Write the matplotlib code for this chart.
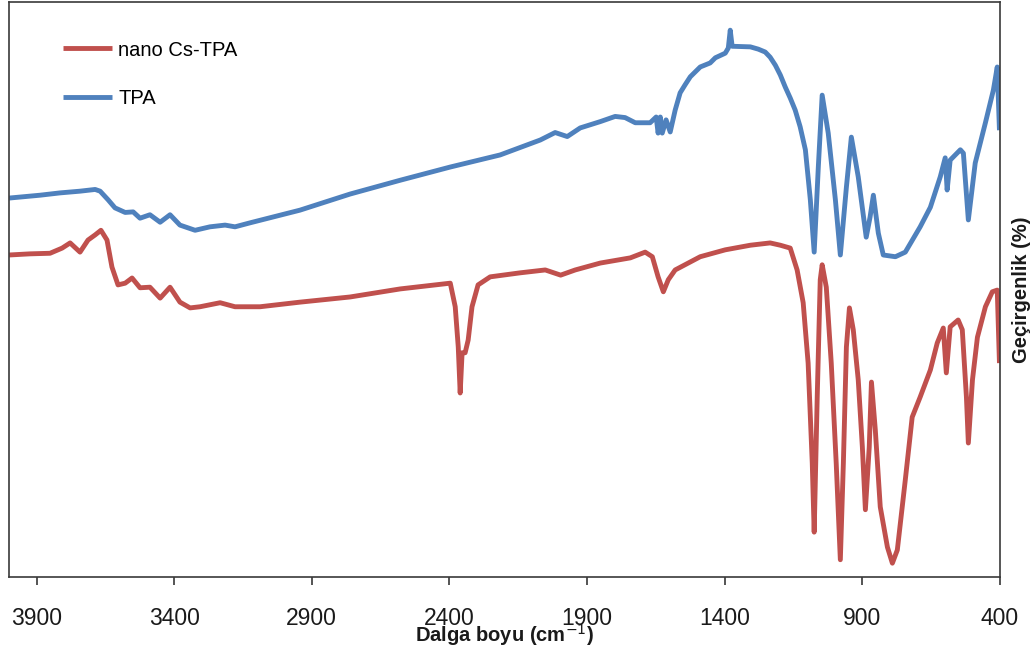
import matplotlib
matplotlib.use("Agg")
import matplotlib.pyplot as plt

plt.rcParams['font.family'] = ['Liberation Sans', 'DejaVu Sans']

# TPA (blue) spectrum: wavenumber (cm-1) and transmittance (arbitrary %)
tpa_wn = [4000, 3887, 3815, 3742, 3687, 3669, 3640, 3615, 3578, 3549, 3524, 3488,
          3451, 3415, 3379, 3324, 3270, 3215, 3179, 3124, 2943, 2761, 2579, 2397,
          2216, 2070, 2016, 1972, 1925, 1852, 1798, 1762, 1725, 1671, 1649, 1642,
          1634, 1627, 1613, 1598, 1580, 1562, 1544, 1525, 1489, 1453, 1434, 1398,
          1387, 1380, 1373, 1307, 1278, 1253, 1235, 1216, 1198, 1180, 1162, 1144,
          1126, 1107, 1089, 1075, 1060, 1046, 1024,
          998, 980, 958, 940, 915, 886, 872, 860, 842, 824, 780, 744, 690, 653,
          617, 599, 592, 581, 544, 533, 515, 490, 453, 424, 410, 402]
tpa_t = [65.9, 66.4, 66.8, 67.1, 67.4, 67.1, 65.6, 64.2, 63.4, 63.5, 62.4, 63.0,
         61.7, 63.0, 61.2, 60.3, 60.9, 61.2, 60.9, 61.6, 63.8, 66.6, 69.0, 71.3,
         73.4, 76.0, 77.3, 76.6, 78.1, 79.2, 80.1, 79.9, 79.0, 79.0, 80.0, 77.2,
         80.0, 77.2, 79.5, 77.4, 81.2, 84.2, 85.6, 87.0, 88.7, 89.4, 90.3, 91.1,
         92.0, 95.1, 92.3, 92.2, 91.8, 91.3, 90.4, 89.0, 87.3, 85.2, 83.3, 81.2,
         78.3, 74.3, 65.6, 56.5, 71.3, 83.8, 77.2,
         65.6, 56.0, 67.8, 76.5, 69.6, 59.1, 62.6, 66.4, 59.8, 56.0, 55.7, 56.5,
         60.9, 64.3, 69.6, 72.9, 67.3, 72.5, 74.3, 73.7, 62.1, 72.0, 79.0, 84.7,
         88.7, 77.7]

# nano Cs-TPA (red) spectrum
cs_wn = [4000, 3924, 3851, 3807, 3778, 3742, 3713, 3687, 3666, 3644, 3626, 3604,
         3578, 3553, 3524, 3488, 3451, 3415, 3379, 3342, 3306, 3233, 3179, 3088,
         2943, 2761, 2579, 2397, 2379, 2368, 2361, 2354, 2343, 2332, 2318, 2296,
         2252, 2143, 2052, 1996, 1943, 1852, 1743, 1689, 1663, 1642, 1623, 1605,
         1580, 1489, 1398, 1307, 1235, 1198, 1162, 1137, 1115, 1097, 1082, 1075,
         1064, 1053, 1046, 1031, 1013, 995, 980, 969, 958, 947, 933, 915, 900,
         889, 875, 867, 853, 835, 809, 791, 773, 744, 719, 690, 653, 628, 606,
         595, 581, 552, 537, 522, 515, 500, 482, 453, 428, 410, 402]
cs_t = [56.0, 56.2, 56.3, 57.2, 58.1, 56.5, 58.6, 59.5, 60.3, 58.6, 53.9, 50.8,
        51.1, 52.0, 50.3, 50.4, 48.5, 50.4, 47.8, 46.8, 47.0, 47.7, 47.0, 47.0,
        47.8, 48.7, 50.1, 51.1, 47.0, 40.0, 32.0, 39.0, 39.0, 41.2, 47.0, 50.8,
        52.2, 52.9, 53.4, 52.5, 53.4, 54.6, 55.5, 56.5, 55.7, 52.2, 49.6, 51.7,
        53.4, 55.7, 56.9, 57.7, 58.1, 57.7, 57.2, 53.4, 47.7, 37.2, 19.8, 7.8,
        31.3, 51.7, 54.3, 50.4, 37.2, 19.8, 3.0, 19.8, 40.0, 46.8, 43.0, 34.3,
        22.6, 11.7, 22.6, 33.9, 25.6, 12.2, 5.2, 2.4, 4.7, 16.9, 27.8, 31.3,
        36.0, 40.7, 43.3, 35.5, 43.5, 44.7, 43.0, 31.3, 23.3, 34.3, 41.7, 47.0,
        49.6, 49.9, 37.2]

tick_values = [3900, 3400, 2900, 2400, 1900, 1400, 900, 400]
tick_labels = ['3900', '3400', '2900', '2400', '1900', '1400', '900', '400']
series_names = ['nano Cs-TPA', 'TPA']

RED = '#C0504D'
BLUE = '#4F81BD'

fig = plt.figure(figsize=(10.36, 6.53), dpi=100)
ax = fig.add_axes([9 / 1036, 1 - 577 / 653, 991 / 1036, 575 / 653])

ax.plot(cs_wn, cs_t, color=RED, lw=3.5, label=series_names[0],
        solid_joinstyle='round', solid_capstyle='butt')
ax.plot(tpa_wn, tpa_t, color=BLUE, lw=3.5, label=series_names[1],
        solid_joinstyle='round', solid_capstyle='butt')

ax.set_xlim(4000, 400)
ax.set_ylim(0, 100)
ax.set_xticks(tick_values)
ax.set_xticklabels(tick_labels)
ax.set_yticks([])
ax.tick_params(axis='x', direction='out', length=5.8, width=1.1,
               pad=16, labelsize=16.5, colors='#262626', labelcolor='#1a1a1a')
for sp in ax.spines.values():
    sp.set_color('#3a3a3a')
    sp.set_linewidth(1.2)

ax.set_xlabel('Dalga boyu (cm$^{-1}$)', fontsize=14.5, fontweight='bold',
              color='#1a1a1a')
ax.xaxis.set_label_coords(0.5, -0.078)
ax.yaxis.set_label_position('right')
ax.set_ylabel('Geçirgenlik (%)', fontsize=14.5, fontweight='bold', color='#1a1a1a')
ax.yaxis.set_label_coords(1.012, 0.5)

leg = ax.legend(loc='upper left', bbox_to_anchor=(0.0545, 0.933), frameon=False,
                fontsize=14.5, handlelength=2.45, handletextpad=0.3,
                labelspacing=1.45, borderpad=0, borderaxespad=0)

fig.savefig('out.png', dpi=100)
